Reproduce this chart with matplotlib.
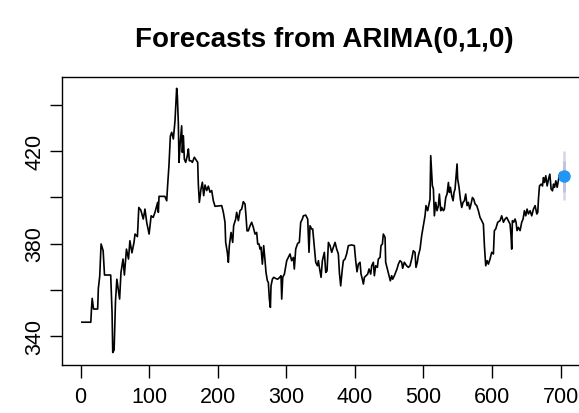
import matplotlib
matplotlib.use('Agg')
import matplotlib.pyplot as plt

plt.rcParams['font.family'] = ['Liberation Sans', 'DejaVu Sans']

t_obs = [2, 15, 16, 17, 19, 25, 26, 28, 30, 33, 35, 44, 46, 47, 49, 51, 53, 57, 59, 62,
         64, 67, 70, 72, 75, 78, 79.5, 83, 85, 88, 91.5, 94,
         96.5, 100, 103, 106, 108.6, 112.5, 113.5, 114.5, 123, 125.7, 127, 129, 131, 133,
         135.4, 137.8, 140.2, 141.2, 142.7, 143.6, 145.1, 147.5, 148.5, 150, 151.4, 153.4,
         155.8, 157.3, 158.7, 161.1, 163.1, 166, 169.4, 170.9, 171.8, 173.3, 175.7, 177.7,
         179.6, 181.6, 184, 186.4, 188.8, 191.3, 193.7, 196.1, 205.9,
         208.3, 210.7, 211.7, 214.1, 215.6, 217, 219.5, 221.9, 223.3, 226.3, 227.7, 230.2,
         232.6, 235, 237.4, 239.9, 241.3, 242.8, 244.7, 247.2, 249.6, 252, 254.5, 256.9,
         258.4, 260.3, 261.8, 263.2, 265.2, 267.1, 269.1, 270.5, 272.5, 273.9, 275.4, 276.9,
         277.8, 279.8, 281.7, 284.6, 287.6, 290.5, 292.4, 293.4, 294.9, 297.3,
         300.7, 303.1, 305.5, 307.9, 310.4, 311.8, 313.8, 316.7, 319.1, 321.1, 323.5, 325,
         328.4, 331.3, 333.2, 334.7, 337.1, 338.6, 341.1, 343, 345.4, 346.9, 348.3, 350.8,
         352.7, 355.6, 357.6, 359.5, 361.5, 363.9, 366.3, 368.7, 371.2, 373.6, 376, 377.5,
         379.4, 381.8, 383.3, 385.7, 388.1, 390.6, 395.4, 399.3, 401.3, 403.2, 405.2,
         407.6, 409.1, 411, 412.5, 414, 416.4, 418.8, 420.7, 423.2, 424.6, 427, 428.5, 430.4,
         432.9, 434.3, 436.8, 438.2, 440.2, 441.6, 444.1, 445, 447.5, 449.9, 451.8, 453.8,
         455.2, 457.7, 459.6, 461.5, 463.5, 465.9, 468.4, 469.8, 472.2, 475.6, 478.1, 480.5,
         482.9, 485.3, 487.8, 489.2, 491.2, 492.6, 495.1, 497.5, 499.9, 502.4, 503.8, 506.2,
         509.7, 510.7, 512.1, 513.1, 514.6, 516, 518, 519.9, 521.9, 523.3, 525.3, 526.7,
         529.2, 530.6, 532.6, 534.5, 536.5, 537.9, 539.4, 541.3, 543.3, 544.7, 546.2, 547.6,
         549.1, 550, 552, 553.9, 555.9, 557.8, 559.8, 561.7, 563.7, 565.6, 567.6, 569.5,
         571.5, 573.4, 575.4, 577.8, 580.2, 582.6, 585.1, 587.5, 589, 590.9, 592.9, 594.8,
         597.2, 599.6, 602.1, 603.5, 605.5, 608.4,
         611.8, 614.2, 616.7, 619.1, 621.5, 623.9, 626.4, 627.8, 628.8, 629.8, 631.7, 633.7,
         635.1, 636.6, 638.5, 641, 643.4, 645.4, 647.3, 649.3, 651.2, 653.2, 655.6, 658,
         660.5, 662.9, 665.4, 666.8, 667.8, 669.3, 671.7, 673.7, 675.1, 676.6, 678.5, 680.5,
         682.4, 684.4, 686.3, 688.3, 689.8, 691.2, 693.2, 695.1, 697.1, 698.5, 700, 704]
price_obs = [346, 346, 351.7, 356.3, 351.7, 351.7, 360.6, 365.8, 379.8, 376.9, 366.4, 366.4,
             350.2, 332.9, 334, 355, 364.6, 356, 367.5, 373.3, 366.4, 377.6, 373.3, 381.2,
             376, 380.5, 384.1, 383, 395.6, 394.4, 390.6, 394.9,
             389.2, 384.1, 392, 391.3, 393.5, 397.8, 393.5, 400.4, 400.4, 398.5, 405, 413.9,
             426.4, 428.1, 425.2, 433.1, 447.1, 444, 431.7, 415.1, 422.3, 430.9, 419.4, 426.6,
             416.5, 415.1, 418, 420.9, 415.8, 415.8, 415.1, 417.3, 415.8, 415.1, 405.7, 397.8,
             403.6, 406.5, 400.7, 405.3, 402.9, 404.8, 402.2, 402.9, 398.5, 396.1, 396.4,
             393.5, 389.2, 380.5, 376.2, 371.9, 379.1, 384.8, 380.5, 387.7, 390.6, 393.5, 389.9,
             394.2, 394.9, 398.1, 397.1, 392, 385.5, 385.5, 387.7, 389.2, 387, 384.1, 384.8,
             379.8, 379.8, 377.6, 378.4, 371.1, 379.1, 372.6, 367.5, 363.9, 363.2, 356, 352.4,
             361.7, 364.6, 365.4, 364.9, 364.6, 365.4, 366.1, 356, 365.4, 366.8,
             372.6, 374, 375.5, 372.6, 374, 369, 377.6, 380.1, 380.5, 389.2, 390.6, 392,
             392.3, 390.6, 376.2, 387.7, 386.3, 386.3, 378.4, 371.9, 370.4, 372.6, 369.7, 365.4,
             372.6, 376.2, 367.5, 368.2, 380.5, 379.1, 376.2, 378.4, 380.5, 377.6, 375.5, 367.5,
             361.7, 369, 372.6, 373.3, 375.5, 379.1, 379.4, 379.1, 372.6, 367.8, 371.1,
             371.9, 366.8, 364.6, 362.5, 365.4, 366.1, 366.8, 369, 366.8, 370.4, 371.9, 366.1,
             370.4, 369.7, 373.3, 374, 379.1, 379.8, 384.1, 382.7, 371.9, 369, 366.1, 363.9,
             366.1, 364.6, 366.1, 367.5, 369, 371.1, 372.6, 371.9, 369.3, 371.9, 370.4, 369.7,
             370.4, 373.3, 376.9, 376.2, 369.7, 371.9, 374.7, 377.6, 383.4, 387.7, 392, 396.4,
             394.2,
             399.2, 418, 410.8, 405, 403.6, 392, 397.8, 394.2, 396.4, 401.4, 394.2, 395.6,
             394.2, 394.9, 399.9, 401.4, 406.4, 402.1, 404.3, 400.7, 398.5, 402.1, 403.6, 408.6,
             414.4, 407.9, 404.3, 399.2, 395.6, 397.8, 398.5, 401.4, 396.4, 397.8, 394.9, 397.1,
             399.9, 399.2, 397.1, 396.4, 394.2, 391.3, 389.9, 388.4, 379.1, 370.4, 372.6, 371.1,
             373.3, 376.2, 375.5, 385.6, 386.3, 389.2,
             389.9, 392, 389.2, 390.6, 391.3, 389.9, 388.4, 383.4, 377.6, 389.9, 389.2, 390.6,
             389.2, 385.6, 387, 385.6, 389.2, 390.6, 394.2, 392, 394.9, 392.8, 394.2, 392,
             394.9, 396.4, 392.8, 393.5, 399.2, 404.9, 405.7, 404.9, 408.5, 406.4, 409.3, 404.9,
             407.8, 410, 403.5, 402.8, 405.7, 404.3, 407.1, 404.3, 407.8, 410, 410.7, 409]

# one-step forecast with 80% and 95% intervals
t_fc = 705
fc_mean = 409.1
fc_lo80, fc_hi80 = 402.4, 415.8
fc_lo95, fc_hi95 = 399.0, 419.8

fig = plt.figure(figsize=(5.79, 4.14), dpi=100)
ax = fig.add_axes([62 / 579, 1 - 366 / 414, 525 / 579, 288 / 414])

ax.plot(t_obs, price_obs, color='black', linewidth=1.2)
ax.vlines(t_fc, fc_lo95, fc_hi95, color='#D8D9E8', linewidth=2)
ax.vlines(t_fc, fc_lo80, fc_hi80, color='#BFC2DC', linewidth=2)
ax.plot([t_fc], [fc_mean], 'o', color='#2196F3', markersize=8)

ax.set_xlim(-27, 738.6)
ax.set_ylim(327.5, 452)
ax.set_xticks(range(0, 701, 100))
ax.set_yticks([340, 360, 380, 400, 420, 440])
ax.set_yticklabels(['340', '', '380', '', '420', ''], rotation=90, va='center')
ax.tick_params(axis='both', length=9, width=1, labelsize=15.5, colors='black')
ax.tick_params(axis='x', pad=6)
ax.tick_params(axis='y', pad=3)
for s in ax.spines.values():
    s.set_linewidth(1)

ax.set_title('Forecasts from ARIMA(0,1,0)', fontsize=20, fontweight='bold', pad=22)

fig.savefig('out.png', dpi=100)
